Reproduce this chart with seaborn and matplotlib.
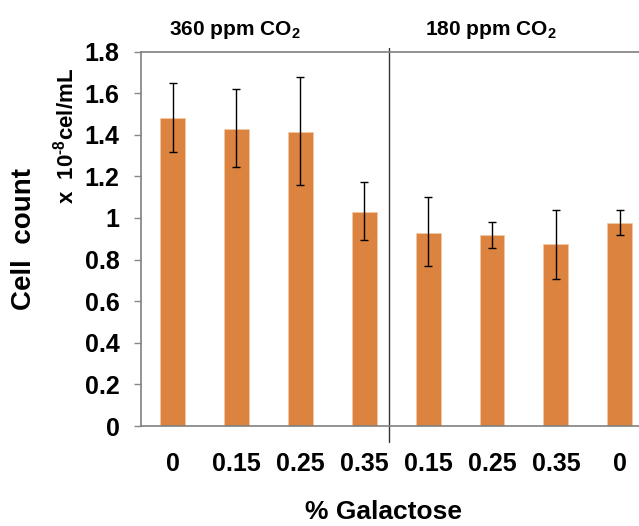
import numpy as np
import pandas as pd
import matplotlib
matplotlib.use("Agg")
import matplotlib.pyplot as plt
import matplotlib.transforms as mtransforms
import seaborn as sns

# galactose levels, two CO2 groups of four bars each
galactose = ["0", "0.15", "0.25", "0.35", "0.15", "0.25", "0.35", "0"]
co2_groups = ["360 ppm CO$_\\mathbf{2}$", "180 ppm CO$_\\mathbf{2}$"]
cell_count = [1.48, 1.43, 1.415, 1.03, 0.93, 0.92, 0.875, 0.975]
err_high = [1.648, 1.619, 1.677, 1.173, 1.099, 0.979, 1.038, 1.038]
err_low = [1.317, 1.245, 1.157, 0.892, 0.767, 0.855, 0.709, 0.916]
y_ticks = [0, 0.2, 0.4, 0.6, 0.8, 1, 1.2, 1.4, 1.6, 1.8]

sns.set_style("white")
plt.rcParams["font.family"] = ["Liberation Sans", "DejaVu Sans"]
plt.rcParams["font.weight"] = "bold"
plt.rcParams["text.color"] = "black"
plt.rcParams["mathtext.fontset"] = "custom"
plt.rcParams["mathtext.rm"] = "Liberation Sans:bold"
plt.rcParams["mathtext.bf"] = "Liberation Sans:bold"

df = pd.DataFrame({"pos": np.arange(len(cell_count)), "count": cell_count})
yerr = [np.array(cell_count) - np.array(err_low), np.array(err_high) - np.array(cell_count)]

fig = plt.figure(figsize=(6.39, 5.26), dpi=100)
ax = fig.add_axes([0.22, 0.19, 0.78, 0.712])

sns.barplot(data=df, x="pos", y="count", color="#DC833F", saturation=1,
            width=0.39, errorbar=None, edgecolor="#F2C9A5", linewidth=0.6, ax=ax)
ax.errorbar(df["pos"], df["count"], yerr=yerr, fmt="none", ecolor="black",
            elinewidth=1, capsize=3, capthick=1)

ax.set_ylim(0, 1.8)
ax.set_xlim(-0.5, 7.3)
ax.set_yticks(y_ticks)
ax.set_yticklabels([f"{t:g}" for t in y_ticks], fontsize=18, fontweight="bold")
ax.set_xticks(df["pos"])
ax.set_xticklabels(galactose, fontsize=18, fontweight="bold")
ax.tick_params(axis="x", length=0, pad=19, labelcolor="black")
ax.tick_params(axis="y", length=5, width=1, color="#888888", pad=10, left=True,
               labelcolor="black")
ax.set_xlabel("")
ax.set_ylabel("")

for side in ["left", "bottom", "top"]:
    ax.spines[side].set_color("#808080")
    ax.spines[side].set_linewidth(1.2)
ax.spines["right"].set_visible(False)

# divider between the CO2 groups
trans = mtransforms.blended_transform_factory(ax.transData, ax.transAxes)
ax.plot([3.38, 3.38], [-0.042, 1.01], transform=trans, color="#333333",
        linewidth=1, clip_on=False)

ax.text(0.97, 1.057, co2_groups[0], transform=trans, ha="center", va="center",
        fontsize=15, fontweight="bold")
ax.text(4.98, 1.057, co2_groups[1], transform=trans, ha="center", va="center",
        fontsize=15, fontweight="bold")

fig.text(0.038, 0.545, "Cell  count", rotation=90, ha="center", va="center",
         fontsize=20, fontweight="bold")
fig.text(0.102, 0.741, "x  10$^{\\text{-8}}$cel/mL", rotation=90, ha="center",
         va="center", fontsize=16, fontweight="bold")
fig.text(0.600, 0.027, "% Galactose", ha="center", va="center",
         fontsize=19, fontweight="bold")

fig.savefig("out.png", dpi=100)
